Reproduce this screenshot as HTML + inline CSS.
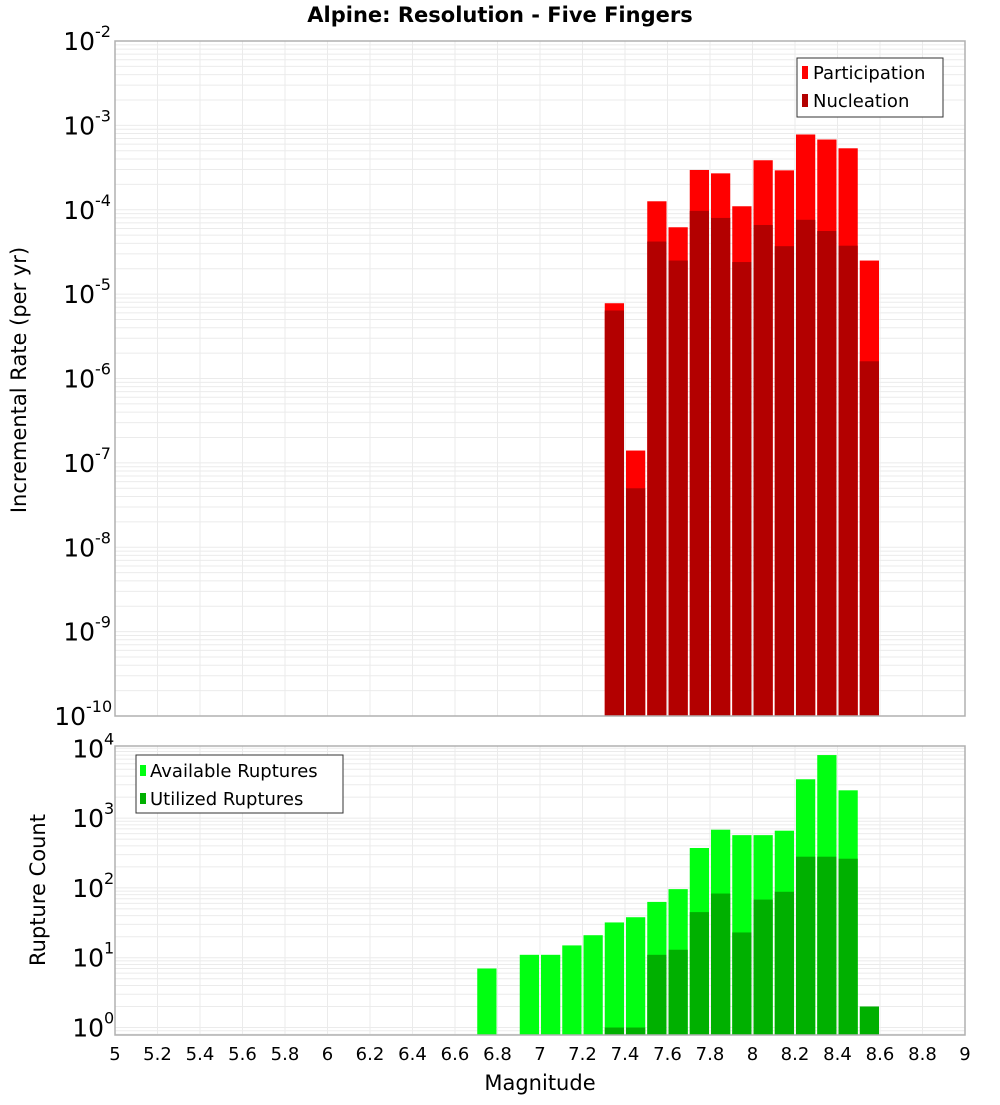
<!DOCTYPE html>
<html><head><meta charset="utf-8"><style>
body{margin:0;background:#fff;}
svg{font-family:"DejaVu Sans","Liberation Sans",sans-serif;}
</style></head><body>
<svg id="chart" width="1000" height="1100" xmlns="http://www.w3.org/2000/svg">
<text x="500" y="22" text-anchor="middle" font-size="21" font-weight="bold">Alpine: Resolution - Five Fingers</text>
<g id="grid"></g>
<g id="bars"></g>
<g id="axes"></g>
<text x="540" y="1090" text-anchor="middle" font-size="21">Magnitude</text>
<text transform="translate(26,380) rotate(-90)" text-anchor="middle" font-size="21">Incremental Rate (per yr)</text>
<text transform="translate(45,890) rotate(-90)" text-anchor="middle" font-size="21">Rupture Count</text>
<g>
<rect x="797" y="58" width="146" height="59" fill="#fff" stroke="#333" stroke-width="1"/>
<rect x="802" y="66" width="6" height="13" fill="#ff0000"/>
<text x="813" y="79" font-size="18">Participation</text>
<rect x="802" y="94" width="6" height="13" fill="#b30000"/>
<text x="813" y="107" font-size="18">Nucleation</text>
</g>
<g>
<rect x="136" y="755" width="207" height="58" fill="#fff" stroke="#333" stroke-width="1"/>
<rect x="140" y="765" width="6" height="11" fill="#00ff11"/>
<text x="150" y="777" font-size="18">Available Ruptures</text>
<rect x="140" y="793" width="6" height="11" fill="#00b000"/>
<text x="150" y="805" font-size="18">Utilized Ruptures</text>
</g>
</svg>
<script>
const topMags = [7.3,7.4,7.5,7.6,7.7,7.8,7.9,8.0,8.1,8.2,8.3,8.4,8.5];
const participation = [7.8e-6,1.4e-7,1.26e-4,6.2e-5,2.96e-4,2.7e-4,1.1e-4,3.86e-4,2.93e-4,7.8e-4,6.8e-4,5.35e-4,2.5e-5];
const nucleation = [6.4e-6,5e-8,4.2e-5,2.5e-5,9.7e-5,8e-5,2.4e-5,6.6e-5,3.7e-5,7.6e-5,5.6e-5,3.75e-5,1.6e-6];
const botMags = [6.7,6.9,7.0,7.1,7.2,7.3,7.4,7.5,7.6,7.7,7.8,7.9,8.0,8.1,8.2,8.3,8.4,8.5];
const available = [7,11,11,15,21,32,38,63,96,373,682,570,570,660,3600,8000,2500,0];
const utilized = [0,0,0,0,0,1,1,11,13,45,83,23,68,88,280,280,262,2];
const xTicks = [5,5.2,5.4,5.6,5.8,6,6.2,6.4,6.6,6.8,7,7.2,7.4,7.6,7.8,8,8.2,8.4,8.6,8.8,9];
const topExps = [-2,-3,-4,-5,-6,-7,-8,-9,-10];
const botExps = [0,1,2,3,4];

const NS="http://www.w3.org/2000/svg";
const X0=115,X1=965;
const xs=m=>X0+(m-5)/4*(X1-X0);
const T0=41,T1=716;
const ty=v=>T0+(-2-Math.log10(v))*(T1-T0)/8;
const B0=746,B1=1035;
const by=v=>1027.5-Math.log10(v)*69.8;
const grid=document.getElementById('grid'),bars=document.getElementById('bars'),axes=document.getElementById('axes');
function el(tag,attrs,parent){const e=document.createElementNS(NS,tag);for(const k in attrs)e.setAttribute(k,attrs[k]);parent.appendChild(e);return e;}
// grids
for(let d=-10;d<-2;d++){for(let k=1;k<10;k++){const y=ty(k*Math.pow(10,d));if(y<T0||y>T1)continue;
const l=el('line',{x1:X0,x2:X1,y1:y,y2:y,stroke:'#ebebeb','stroke-width':1},grid);
}}
for(let d=-1;d<5;d++){for(let k=1;k<10;k++){const y=by(k*Math.pow(10,d));if(y<B0||y>B1)continue;
const l=el('line',{x1:X0,x2:X1,y1:y,y2:y,stroke:'#ebebeb','stroke-width':1},grid);
}}
xTicks.forEach(t=>{const x=xs(t);
const a=el('line',{x1:x,x2:x,y1:T0,y2:T1,stroke:'#ebebeb','stroke-width':1},grid);

const b=el('line',{x1:x,x2:x,y1:B0,y2:B1,stroke:'#ebebeb','stroke-width':1},grid);
});
// bars
function bar(m,v,yf,base,color,name){if(!(v>0))return;const x=xs(m)+1,w=xs(m+0.1)-xs(m)-2;let y=Math.max(yf(v),name.startsWith('top')?T0:B0);
const r=el('rect',{x:x,y:y,width:w,height:base-y,fill:color},bars);
}
topMags.forEach((m,i)=>{bar(m,participation[i],ty,T1,'#ff0000','top-participation-bar');bar(m,nucleation[i],ty,T1,'#b30000','top-nucleation-bar');});
botMags.forEach((m,i)=>{bar(m,available[i],by,B1,'#00ff11','bottom-available-bar');bar(m,utilized[i],by,B1,'#00b000','bottom-utilized-bar');});
// frames
el('rect',{x:X0,y:T0,width:X1-X0,height:T1-T0,fill:'none',stroke:'#b0b0b0','stroke-width':1.5},axes);
el('rect',{x:X0,y:B0,width:X1-X0,height:B1-B0,fill:'none',stroke:'#b0b0b0','stroke-width':1.5},axes);
// y labels
function ylab(y,e,name){const t=el('text',{x:105,y:y+9,'text-anchor':'end','font-size':25},axes);

const s=String(e);const w=s.length*9;
t.setAttribute('x',113-w);t.textContent='10';
const sup=el('text',{x:113-w,y:y-4,'font-size':16},axes);sup.textContent=s;
}
topExps.forEach(e=>ylab(ty(Math.pow(10,e)),e,'top-y-tick-label'));
botExps.forEach(e=>ylab(by(Math.pow(10,e)),e,'bottom-y-tick-label'));
xTicks.forEach(t=>{const tx=el('text',{x:xs(t),y:1060,'text-anchor':'middle','font-size':18},axes);
tx.textContent=String(t);});
</script>
</body></html>
